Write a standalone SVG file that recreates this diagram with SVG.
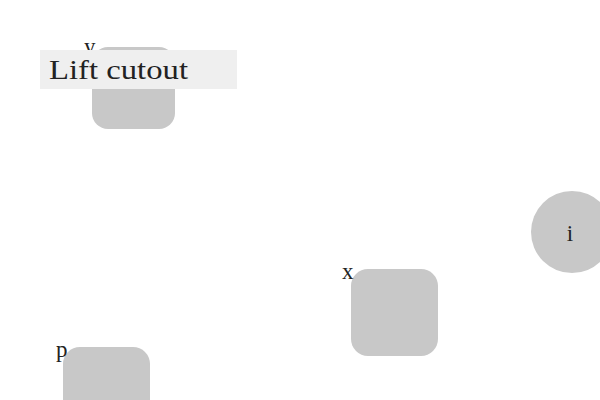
<svg xmlns="http://www.w3.org/2000/svg" width="600" height="400" viewBox="0 0 600 400">
<style>
.n{fill:#c8c8c8}
.t{font-family:"Liberation Serif","DejaVu Serif",serif;fill:#222}
.lbl{font-size:23px}
</style>
<rect width="600" height="400" fill="#fff"/>
<g id="node-y">
<rect class="n" x="92" y="47" width="83" height="82" rx="16"/>
<text class="t lbl" x="84" y="54">y</text>
</g>
<g id="node-x">
<rect class="n" x="351" y="269" width="87" height="87" rx="17"/>
<text class="t lbl" x="342" y="279">x</text>
</g>
<g id="node-i">
<circle class="n" cx="572" cy="232" r="41"/>
<text class="t lbl" x="570" y="241" text-anchor="middle">i</text>
</g>
<g id="node-p">
<rect class="n" x="63" y="347" width="87" height="80" rx="17"/>
<text class="t lbl" x="56" y="357">p</text>
</g>
<g id="connectors"></g>
<g id="title">
<rect x="40" y="50" width="197" height="39" fill="#efefef"/>
<text class="t" x="49" y="79" font-size="28" textLength="139" lengthAdjust="spacingAndGlyphs">Lift cutout</text>
</g>
</svg>
